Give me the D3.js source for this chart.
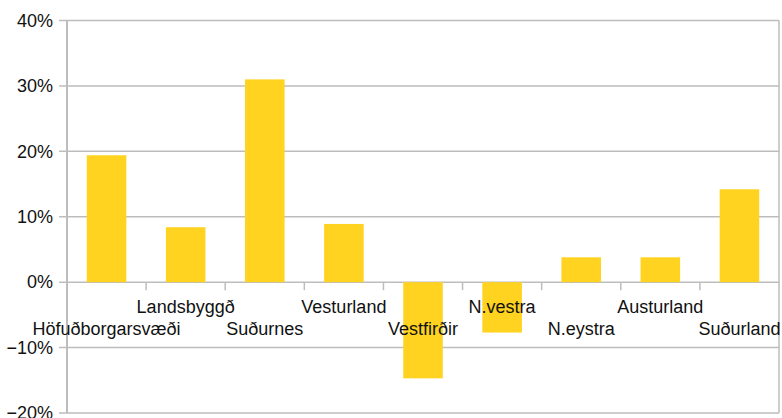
<!DOCTYPE html>
<html>
<head>
<meta charset="utf-8">
<style>
  body { margin: 0; background: #fff; }
  svg text { font-family: "Liberation Sans", Arial, sans-serif; fill: #111; }
</style>
</head>
<body>
<script src="https://cdn.jsdelivr.net/npm/d3@7"></script>
<script>
  const regions = ["Höfuðborgarsvæði", "Landsbyggð", "Suðurnes", "Vesturland", "Vestfirðir",
                   "N.vestra", "N.eystra", "Austurland", "Suðurland"];
  const change = [0.194, 0.084, 0.310, 0.089, -0.147, -0.077, 0.038, 0.038, 0.142];
  const yTicks = [-0.2, -0.1, 0, 0.1, 0.2, 0.3, 0.4];

  const W = 782, H = 418;
  const mLeft = 67, mRight = 779, mTop = 20.5, mBottom = 413;

  const svg = d3.select("body").append("svg")
    .attr("width", W)
    .attr("height", H);

  const x = d3.scaleBand()
    .domain(regions)
    .range([mLeft, mRight])
    .paddingInner(0.5)
    .paddingOuter(0.25);

  const slot = d3.scaleBand().domain(regions).range([mLeft, mRight]);

  const y = d3.scaleLinear().domain([-0.2, 0.4]).range([mBottom, mTop]);

  // gridlines
  svg.append("g")
    .selectAll("line")
    .data(yTicks)
    .enter()
    .append("line")
    .attr("x1", mLeft - 8)
    .attr("x2", mRight)
    .attr("y1", d => y(d))
    .attr("y2", d => y(d))
    .attr("stroke", "#bdbdbd")
    .attr("stroke-width", 1.5);

  // y axis + right frame
  svg.append("line")
    .attr("x1", mLeft).attr("x2", mLeft)
    .attr("y1", mTop).attr("y2", mBottom)
    .attr("stroke", "#bdbdbd").attr("stroke-width", 2);
  svg.append("line")
    .attr("x1", mRight).attr("x2", mRight)
    .attr("y1", mTop).attr("y2", mBottom)
    .attr("stroke", "#bdbdbd").attr("stroke-width", 1.5);

  // category ticks on the zero line
  svg.append("g")
    .selectAll("line")
    .data(regions.slice(1))
    .enter()
    .append("line")
    .attr("x1", d => slot(d))
    .attr("x2", d => slot(d))
    .attr("y1", y(0))
    .attr("y2", y(0) + 8)
    .attr("stroke", "#bdbdbd")
    .attr("stroke-width", 1.5);

  // bars
  svg.append("g")
    .selectAll("rect")
    .data(regions)
    .enter()
    .append("rect")
    .attr("x", d => x(d))
    .attr("width", x.bandwidth())
    .attr("y", (d, i) => y(Math.max(0, change[i])))
    .attr("height", (d, i) => Math.abs(y(change[i]) - y(0)))
    .attr("fill", "#ffd320");

  // y tick labels
  svg.append("g")
    .selectAll("text")
    .data(yTicks)
    .enter()
    .append("text")
    .attr("x", 53)
    .attr("y", d => y(d))
    .attr("dy", "0.35em")
    .attr("text-anchor", "end")
    .style("font-size", "18px")
    .text(d => d3.format(".0%")(d));

  // category labels, staggered in two rows
  svg.append("g")
    .selectAll("text")
    .data(regions)
    .enter()
    .append("text")
    .attr("x", d => slot(d) + slot.bandwidth() / 2)
    .attr("y", (d, i) => i % 2 ? 313 : 335)
    .attr("text-anchor", "middle")
    .style("font-size", "18px")
    .text(d => d);
</script>
</body>
</html>
